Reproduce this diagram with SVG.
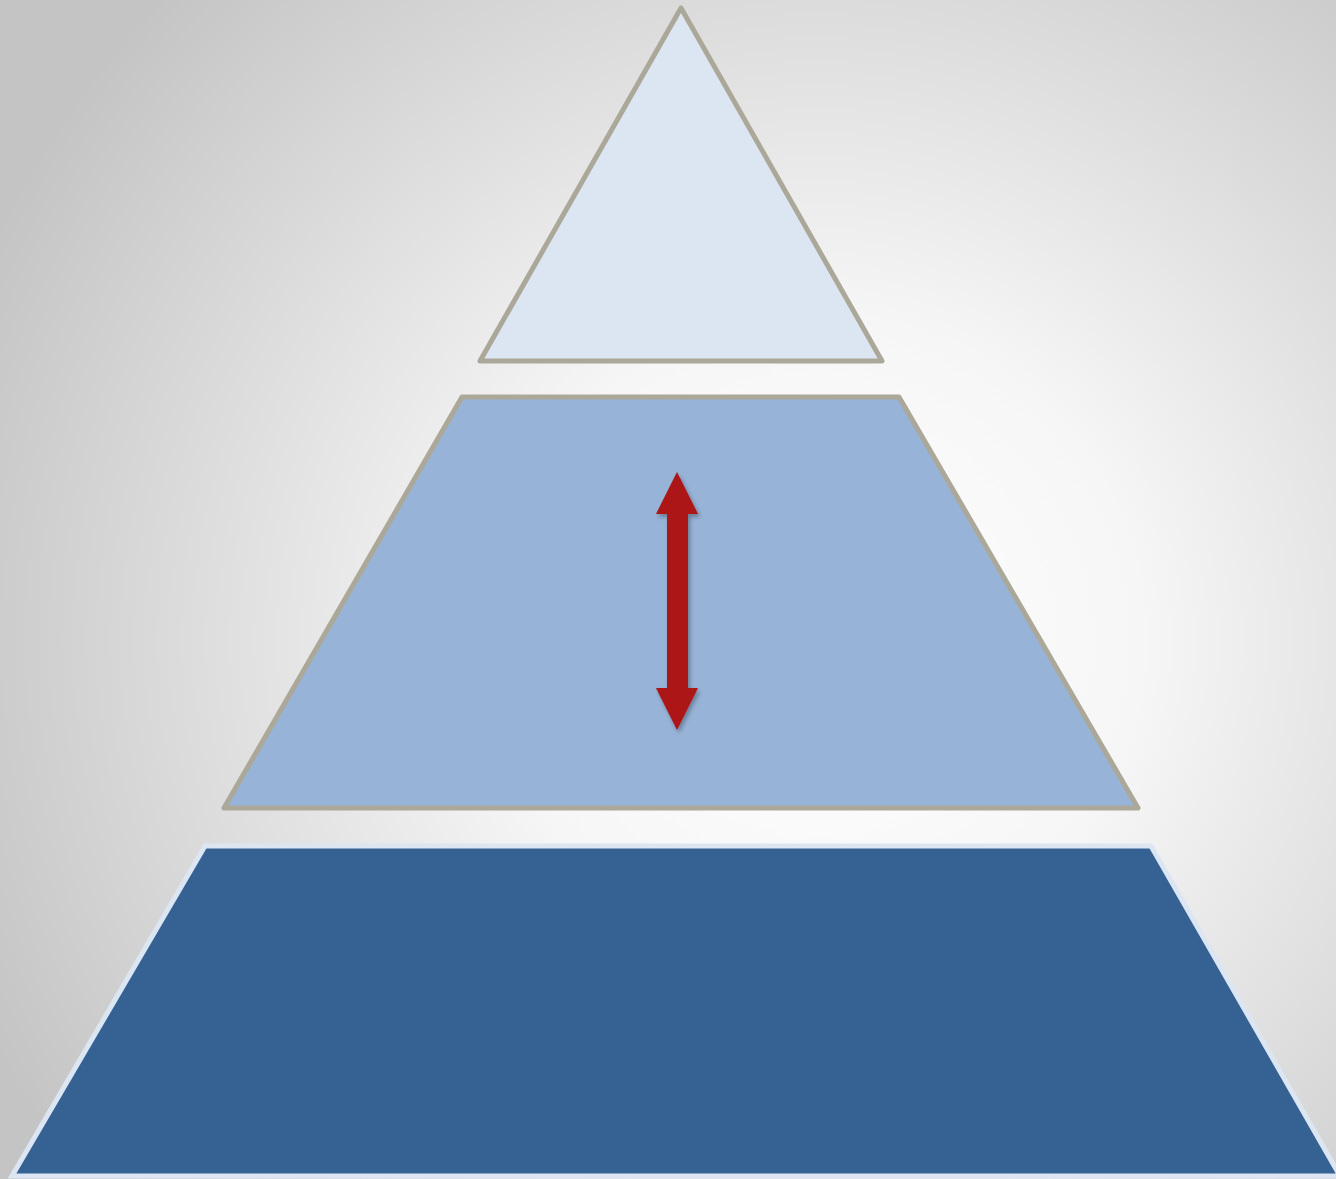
<svg xmlns="http://www.w3.org/2000/svg" width="1336" height="1179" viewBox="0 0 1336 1179">
<defs>
<radialGradient id="bg" cx="820" cy="640" r="920" gradientUnits="userSpaceOnUse">
<stop offset="0" stop-color="#ffffff"/>
<stop offset="0.35" stop-color="#f6f6f6"/>
<stop offset="1" stop-color="#c4c4c4"/>
</radialGradient>
<filter id="sh" x="-50%" y="-20%" width="200%" height="140%">
<feDropShadow dx="2" dy="3" stdDeviation="2" flood-color="#000" flood-opacity="0.3"/>
</filter>
</defs>
<style>
.tier{stroke:#aca899;stroke-width:5;stroke-linejoin:round}
.base{stroke:#dce6f2;stroke-width:5;stroke-linejoin:miter}
</style>
<rect width="1336" height="1179" fill="url(#bg)"/>
<g id="top">
<polygon class="tier" points="681,8 882,361 480,361" fill="#dce6f2"/>
</g>
<g id="middle">
<polygon class="tier" points="462,397 899,397 1138,808 224,808" fill="#97b3d7"/>
</g>
<g id="bottom">
<polygon class="base" points="205,846 1151,846 1340,1176 12,1176" fill="#366193"/>
</g>
<g id="connectors">
<polygon filter="url(#sh)" fill="#ad1414" points="677,472 698,514 688,514 688,688 698,688 677,730 656,688 667,688 667,514 656,514"/>
</g>
</svg>
